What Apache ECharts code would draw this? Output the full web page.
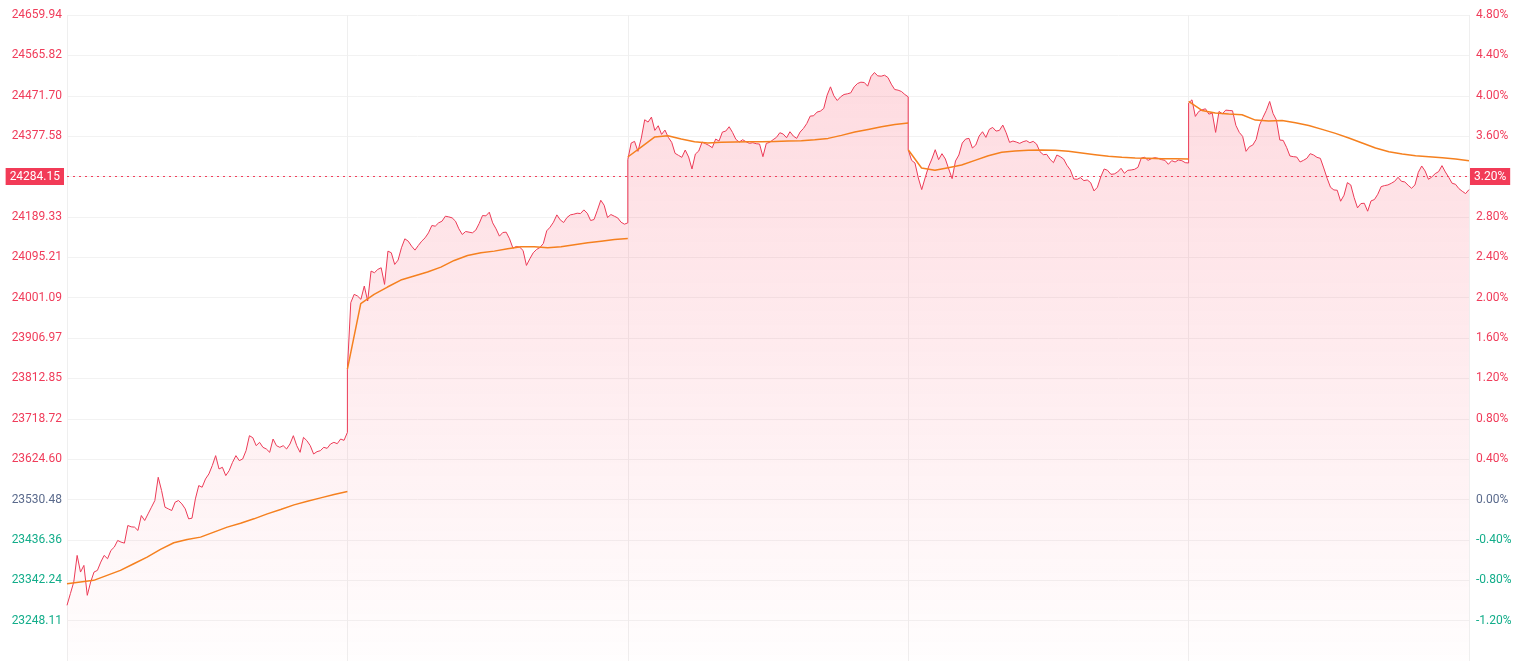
<!DOCTYPE html>
<html>
<head>
<meta charset="utf-8">
<title>五日分时</title>
<script src="https://cdn.jsdelivr.net/npm/echarts@6/dist/echarts.min.js"></script>
<style>
html, body { margin: 0; padding: 0; background: #fff; }
#chart { width: 1523px; height: 661px; }
</style>
</head>
<body>
<div id="chart"></div>
<script>
// 昨收价（0% 基准）与最新价
const preClose = 23530.48
const lastPrice = 24284.15
const dayLen = 84 // 每个交易日的取样点数

// 五日价格（每日 84 个取样点）
const day1Price = [23283.82, 23310.96, 23338.09, 23400.12, 23361.35, 23376.86, 23307.08, 23338.09, 23361.35, 23365.23,
  23384.61, 23400.12, 23392.36, 23411.75, 23419.50, 23435.01, 23431.13, 23428.80, 23469.89, 23466.80,
  23466.02, 23458.26, 23493.15, 23481.52, 23497.03, 23512.54, 23528.04, 23582.31, 23551.30, 23512.54,
  23508.66, 23504.78, 23524.16, 23528.04, 23520.29, 23508.66, 23485.40, 23486.95, 23531.92, 23562.93,
  23559.05, 23578.44, 23590.07, 23609.45, 23632.71, 23601.69, 23605.57, 23586.19, 23597.82, 23617.20,
  23632.71, 23621.08, 23624.95, 23644.34, 23679.22, 23674.57, 23655.97, 23663.72, 23652.09, 23648.21,
  23640.46, 23671.47, 23655.97, 23652.09, 23655.97, 23648.21, 23659.84, 23679.22, 23655.97, 23640.46,
  23675.35, 23667.60, 23655.97, 23636.58, 23642.01, 23644.34, 23652.09, 23649.76, 23659.84, 23663.72,
  23660.62, 23671.47, 23668.37, 23686.98]
const day2Price = [23834.27, 23989.33, 24008.71, 24004.83, 23997.08, 24028.09, 23993.20, 24062.98, 24059.10, 24066.86,
  24070.73, 24031.97, 24109.50, 24105.62, 24078.49, 24088.57, 24117.25, 24138.19, 24132.76, 24121.13,
  24111.83, 24122.68, 24132.76, 24140.51, 24152.14, 24169.20, 24167.65, 24175.40, 24179.28, 24190.91,
  24189.36, 24187.03, 24179.28, 24161.44, 24148.26, 24155.24, 24153.69, 24152.14, 24158.34, 24173.85,
  24192.46, 24191.68, 24200.21, 24175.40, 24161.44, 24144.39, 24152.92, 24153.69, 24138.19, 24116.48,
  24120.35, 24118.80, 24111.05, 24076.16, 24091.67, 24105.62, 24113.38, 24118.03, 24127.33, 24156.79,
  24165.32, 24176.95, 24194.01, 24182.38, 24176.18, 24187.80, 24194.01, 24195.56, 24197.88, 24197.11,
  24205.64, 24197.88, 24180.83, 24183.15, 24204.86, 24228.12, 24216.49, 24187.80, 24194.78, 24190.91,
  24187.03, 24176.95, 24172.30, 24175.40]
const day3Price = [24322.69, 24361.45, 24365.33, 24342.07, 24373.08, 24415.73, 24410.30, 24421.93, 24390.92, 24401.77,
  24381.61, 24391.69, 24374.64, 24363.01, 24337.42, 24332.77, 24328.12, 24345.17, 24328.89, 24300.98,
  24335.87, 24342.85, 24363.78, 24359.90, 24356.03, 24350.60, 24370.76, 24366.11, 24387.04, 24389.37,
  24399.44, 24386.26, 24369.98, 24363.78, 24369.21, 24364.56, 24360.68, 24362.23, 24359.90, 24359.13,
  24329.67, 24360.68, 24363.01, 24369.21, 24374.64, 24385.49, 24382.39, 24373.86, 24387.82, 24377.74,
  24372.31, 24387.04, 24395.57, 24407.20, 24424.25, 24425.03, 24433.56, 24435.88, 24442.09, 24473.10,
  24492.48, 24471.55, 24460.69, 24469.22, 24474.65, 24476.20, 24478.53, 24492.48, 24500.23, 24503.33,
  24502.56, 24494.03, 24516.51, 24525.82, 24518.07, 24517.29, 24519.62, 24514.19, 24498.68, 24486.28,
  24484.73, 24481.63, 24474.65, 24469.22]
const day4Price = [24345.95, 24321.14, 24314.94, 24280.05, 24252.92, 24280.05, 24305.64, 24324.25, 24345.95, 24322.69,
  24336.65, 24324.25, 24300.99, 24278.50, 24319.59, 24333.55, 24361.46, 24370.76, 24372.31, 24349.83,
  24356.81, 24377.74, 24387.82, 24374.64, 24393.25, 24397.90, 24389.37, 24390.92, 24403.33, 24385.49,
  24363.01, 24366.11, 24363.79, 24360.68, 24364.56, 24366.89, 24362.24, 24365.34, 24359.13, 24341.30,
  24334.32, 24335.10, 24323.47, 24315.72, 24333.55, 24329.67, 24324.25, 24309.51, 24298.66, 24277.73,
  24276.95, 24280.83, 24273.85, 24275.40, 24269.20, 24249.82, 24258.35, 24282.38, 24300.99, 24297.89,
  24288.58, 24289.36, 24294.01, 24302.54, 24290.91, 24297.89, 24298.66, 24300.21, 24304.86, 24326.57,
  24328.12, 24321.14, 24325.02, 24327.35, 24325.80, 24322.69, 24321.14, 24311.84, 24320.37, 24317.27,
  24321.92, 24320.37, 24315.72, 24314.94]
const day5Price = [24454.50, 24462.25, 24423.49, 24435.12, 24438.99, 24441.32, 24428.91, 24431.24, 24386.27, 24435.12,
  24429.69, 24438.22, 24437.44, 24436.67, 24402.55, 24386.27, 24376.97, 24342.08, 24352.93, 24356.81,
  24369.99, 24403.33, 24421.16, 24437.44, 24458.37, 24430.46, 24414.96, 24368.44, 24367.66, 24351.38,
  24331.23, 24329.68, 24328.90, 24317.27, 24321.15, 24325.80, 24336.65, 24333.55, 24328.12, 24325.80,
  24303.31, 24279.28, 24258.35, 24252.14, 24251.37, 24225.78, 24239.74, 24269.20, 24263.77, 24234.31,
  24210.28, 24220.36, 24221.13, 24202.53, 24226.56, 24229.66, 24242.07, 24259.90, 24262.22, 24263.77,
  24267.65, 24272.30, 24281.61, 24272.30, 24270.75, 24263.00, 24256.02, 24263.77, 24293.24, 24307.97,
  24296.34, 24276.95, 24282.38, 24290.13, 24294.79, 24308.74, 24294.01, 24281.61, 24267.65, 24265.33,
  24255.25, 24249.04, 24243.62, 24252.92]

// 均价线（每日 22 个等距取样点）
const day1Avg = [23334.22, 23338.09, 23341.97, 23353.60, 23365.23, 23380.73, 23396.24, 23414.07, 23429.58, 23437.33, 23442.76,
  23454.39, 23466.02, 23475.32, 23485.40, 23497.03, 23507.11, 23517.96, 23526.49, 23534.24, 23541.99, 23548.97]
const day2Avg = [23834.27, 23987.00, 24008.71, 24025.77, 24042.05, 24051.35, 24060.66, 24072.29, 24087.79, 24099.42, 24105.62,
  24109.50, 24114.93, 24119.58, 24119.58, 24117.25, 24119.58, 24124.23, 24128.88, 24132.76, 24136.63, 24138.96]
const day3Avg = [24328.89, 24352.15, 24375.41, 24378.51, 24370.76, 24364.56, 24361.45, 24363.01, 24363.78, 24364.56, 24364.56,
  24365.33, 24366.11, 24366.88, 24369.21, 24372.31, 24379.29, 24387.04, 24393.24, 24399.44, 24404.87, 24407.97]
const day4Avg = [24345.95, 24303.31, 24297.89, 24304.09, 24310.29, 24321.14, 24332.00, 24339.75, 24342.85, 24344.40, 24345.18,
  24344.40, 24342.08, 24338.20, 24334.32, 24330.45, 24328.12, 24326.57, 24325.80, 24325.02, 24325.02, 24324.25]
const day5Avg = [24458.37, 24437.44, 24431.24, 24428.91, 24427.36, 24414.96, 24412.63, 24414.18, 24408.76, 24402.55, 24393.25,
  24383.95, 24373.09, 24361.46, 24349.83, 24341.30, 24335.88, 24332.00, 24329.68, 24327.35, 24324.25, 24320.37]

const priceDays = [day1Price, day2Price, day3Price, day4Price, day5Price]
const avgDays = [day1Avg, day2Avg, day3Avg, day4Avg, day5Avg]

const upColor = '#f03c5a'
const downColor = '#13ad8a'
const flatColor = '#5a6a8c'
const lineColor = '#ec3b57'
const avgColor = '#f5801f'

const toPct = p => (p / preClose - 1) * 100
const lastPct = toPct(lastPrice)

// 每日取样点铺满当天区间（开盘在左边界，收盘在右边界）
const priceData = []
priceDays.forEach((arr, d) => {
  arr.forEach((p, i) => priceData.push([d * dayLen + i * dayLen / (arr.length - 1), toPct(p)]))
})

const labelColor = v => (v > 1e-6 ? upColor : (v < -1e-6 ? downColor : flatColor))

const chart = echarts.init(document.getElementById('chart'))

const avgSeries = avgDays.map((arr, d) => ({
  name: '均价',
  type: 'line',
  data: arr.map((p, j) => [d * dayLen + j * dayLen / (arr.length - 1), toPct(p)]),
  showSymbol: false,
  lineStyle: { color: avgColor, width: 1.5 },
  silent: true,
  z: 4
}))

const option = {
  animation: false,
  grid: { left: 67, right: 54, top: 15, height: 647.5 },
  xAxis: {
    type: 'value',
    min: 0,
    max: dayLen * 5,
    interval: dayLen, // 每天一条竖线
    axisLine: { show: false },
    axisTick: { show: false },
    axisLabel: { show: false },
    splitLine: { show: true, lineStyle: { color: '#efefef' } }
  },
  yAxis: [
    {
      type: 'value',
      position: 'left',
      min: -1.6,
      max: 4.8,
      interval: 0.4,
      axisLine: { show: false },
      axisTick: { show: false },
      splitLine: { show: true, lineStyle: { color: '#f2f2f2' } },
      axisLabel: {
        margin: 5,
        fontSize: 12,
        fontFamily: 'Roboto',
        showMinLabel: false,
        color: labelColor,
        formatter: v => (Math.abs(v - lastPct) < 0.2 ? '' : (preClose * (1 + v / 100)).toFixed(2))
      }
    },
    {
      type: 'value',
      position: 'right',
      min: -1.6,
      max: 4.8,
      interval: 0.4,
      axisLine: { show: false },
      axisTick: { show: false },
      splitLine: { show: false },
      axisLabel: {
        margin: 7,
        fontSize: 12,
        fontFamily: 'Roboto',
        showMinLabel: false,
        color: labelColor,
        formatter: v => (Math.abs(v - lastPct) < 0.2 ? '' : v.toFixed(2) + '%')
      }
    }
  ],
  series: [
    {
      name: '价格',
      type: 'line',
      data: priceData,
      showSymbol: false,
      lineStyle: { color: lineColor, width: 1 },
      areaStyle: {
        origin: 'start',
        color: new echarts.graphic.LinearGradient(0, 0, 0, 1, [
          { offset: 0, color: 'rgba(250,50,80,0.25)' },
          { offset: 1, color: 'rgba(250,50,80,0.01)' }
        ])
      },
      silent: true,
      z: 3,
      markLine: {
        silent: true,
        symbol: ['none', 'none'],
        animation: false,
        lineStyle: { color: '#f2405c', width: 1.2, type: [2, 4] },
        label: {
          color: '#fff',
          backgroundColor: '#f23b57',
          fontSize: 12,
          fontFamily: 'Roboto',
          padding: [3, 4, 2, 4]
        },
        data: [
          { yAxis: lastPct, label: { position: 'start', distance: 3, formatter: lastPrice.toFixed(2) } },
          { yAxis: lastPct, label: { position: 'end', distance: 1, formatter: lastPct.toFixed(2) + '%' } }
        ]
      }
    },
    ...avgSeries
  ]
}

chart.setOption(option)
window.addEventListener('resize', () => chart.resize())
</script>
</body>
</html>
